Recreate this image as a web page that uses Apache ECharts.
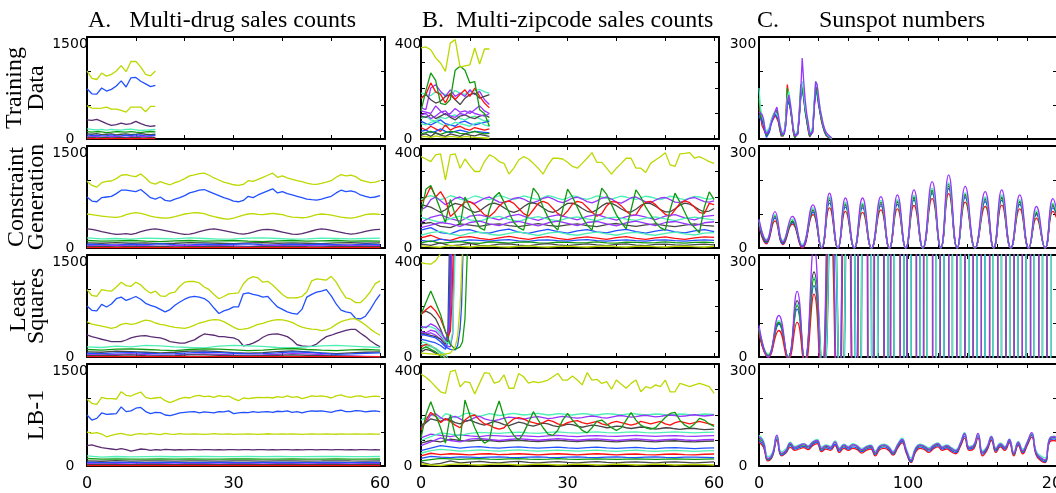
<!DOCTYPE html>
<html><head><meta charset="utf-8">
<script src="https://cdn.jsdelivr.net/npm/echarts@6/dist/echarts.min.js"></script>
<style>html,body{margin:0;padding:0;background:#fff}#c{width:1056px;height:493px}</style>
</head><body><div id="c"></div>
<script>
// ---------- tick labels / categories ----------
const X_LABELS_AB = [0, 30, 60];
const X_LABELS_C = [0, 100, 200];
const Y_MAX = [1500, 400, 300];
const ROW_NAMES = ['Training\nData', 'Constraint\nGeneration', 'Least\nSquares', 'LB-1'];
const TITLES = ['A.   Multi-drug sales counts', 'B.  Multi-zipcode sales counts', 'C.', 'Sunspot numbers'];

// ---------- A. Multi-drug: training (x = 0..14) ----------
const A1_yg1 = [1000, 890, 875, 970, 925, 950, 1000, 1080, 990, 1140, 1140, 1060, 950, 930, 1000];
const A1_blue1 = [740, 665, 660, 750, 705, 730, 780, 855, 765, 900, 905, 850, 810, 770, 790];
const A1_yg2 = [490, 455, 450, 455, 470, 440, 440, 420, 395, 470, 470, 470, 400, 480, 480];
const A1_pd = [280, 275, 290, 260, 225, 200, 210, 235, 215, 225, 260, 225, 200, 185, 195];
const A1_cyan = [150, 140, 135, 140, 130, 140, 135, 130, 140, 145, 135, 125, 130, 135, 140];
const A1_green = [110, 100, 110, 105, 95, 100, 110, 105, 100, 110, 100, 95, 105, 110, 105];
const A1_gray = [75, 70, 80, 65, 70, 75, 60, 70, 75, 65, 70, 80, 70, 65, 70];
const A1_blue2 = [60, 50, 55, 45, 50, 60, 50, 45, 55, 50, 60, 55, 45, 50, 55];
const A1_purple = [35, 30, 40, 25, 30, 35, 40, 30, 25, 35, 30, 40, 35, 30, 25];
const A1_gray2 = [20, 25, 15, 20, 25, 18, 20, 22, 15, 20, 25, 20, 18, 22, 20];
const A1_red = [5, 5, 6, 5, 4, 5, 6, 5, 5, 4, 5, 6, 5, 5, 5];

// ---------- A. Constraint generation (x = 0..60; minor lines every 3) ----------
const A2_yg1 = [980, 920, 895, 960, 980, 985, 1020, 1070, 1080, 1060, 1050, 1090, 1030, 960, 940, 975, 950, 930, 960, 985, 1020, 1060, 1075, 1095, 1100, 1070, 1030, 1000, 970, 950, 930, 920, 935, 990, 980, 1010, 1040, 1070, 1100, 1040, 1060, 1030, 1010, 990, 975, 955, 940, 935, 950, 970, 990, 1040, 1080, 1060, 1070, 1050, 1000, 980, 960, 970, 990];
const A2_blue1 = [750, 690, 680, 740, 750, 760, 800, 850, 850, 840, 830, 860, 800, 740, 720, 750, 700, 690, 720, 740, 770, 810, 830, 850, 860, 830, 800, 770, 740, 720, 690, 680, 700, 760, 740, 780, 810, 840, 870, 810, 830, 800, 780, 760, 740, 720, 710, 705, 720, 740, 760, 810, 850, 830, 840, 820, 780, 760, 740, 750, 770];
const A2_yg2 = [500, 490, 480, 470, 460, 455, 450, 460, 490, 510, 520, 510, 490, 470, 455, 445, 440, 445, 460, 480, 500, 510, 520, 515, 505, 480, 460, 445, 430, 425, 440, 460, 485, 500, 505, 495, 490, 500, 510, 500, 490, 470, 455, 450, 445, 450, 470, 490, 500, 495, 485, 470, 455, 445, 440, 450, 470, 490, 500, 500, 495];
const A2_pd = [280, 275, 260, 240, 225, 210, 200, 205, 210, 200, 215, 240, 260, 275, 280, 270, 255, 240, 225, 210, 200, 205, 220, 240, 260, 275, 280, 270, 255, 240, 225, 210, 205, 215, 235, 255, 270, 275, 265, 250, 235, 220, 205, 200, 210, 230, 250, 270, 280, 275, 260, 245, 230, 215, 205, 210, 225, 245, 260, 270, 275];
const A2_cyan = [150, 135, 140, 130, 145, 140, 135, 150, 140, 130, 135, 145, 150, 140, 130, 135, 145, 140, 135, 140, 145];
const A2_green = [110, 100, 105, 110, 100, 95, 105, 110, 100, 105, 110, 100, 95, 105, 110, 100, 105, 110, 100, 105, 100];
const A2_gray = [75, 70, 80, 70, 75, 65, 70, 80, 75, 70, 65, 75, 80, 70, 75, 70, 65, 75, 80, 70, 75];
const A2_blue2 = [55, 50, 45, 55, 50, 60, 50, 45, 55, 50, 55, 60, 50, 45, 55, 50, 55, 50, 45, 55, 50];
const A2_purple = [35, 30, 40, 30, 35, 25, 35, 40, 30, 35, 30, 25, 35, 40, 30, 35, 30, 35, 40, 30, 35];
const A2_gray2 = [20, 25, 18, 22, 20, 25, 18, 20, 22, 25, 20, 18, 22, 20, 25, 20, 18, 22, 20, 25, 20];
const A2_red = [5, 5, 5, 5, 5, 5, 5, 5, 5, 5, 5, 5, 5, 5, 5, 5, 5, 5, 5, 5, 5];

// ---------- A. Least squares ----------
const A3_yg1 = [990, 905, 890, 990, 975, 968, 1030, 1100, 1050, 1040, 1100, 1060, 990, 940, 968, 900, 890, 940, 955, 1040, 1100, 1113, 1110, 1090, 1030, 990, 920, 857, 890, 929, 935, 944, 1074, 1150, 1181, 1162, 1100, 1113, 1060, 990, 920, 871, 870, 871, 890, 960, 1120, 1150, 1140, 1132, 1186, 1100, 980, 870, 850, 800, 800, 870, 960, 1080, 1120];
const A3_blue1 = [750, 687, 678, 774, 736, 780, 857, 881, 832, 860, 890, 850, 790, 760, 736, 700, 663, 697, 760, 808, 850, 881, 890, 880, 860, 808, 720, 639, 678, 700, 736, 736, 929, 944, 920, 905, 881, 890, 810, 736, 700, 663, 640, 629, 700, 881, 920, 953, 970, 992, 900, 780, 690, 663, 648, 566, 560, 600, 700, 820, 920];
const A3_yg2 = [518, 484, 470, 455, 440, 421, 440, 480, 494, 480, 490, 520, 542, 530, 500, 480, 470, 450, 435, 428, 421, 440, 470, 500, 518, 540, 551, 545, 520, 480, 440, 406, 410, 421, 450, 480, 494, 520, 540, 551, 545, 530, 510, 470, 440, 421, 410, 406, 387, 400, 430, 480, 520, 542, 560, 560, 520, 470, 410, 360, 320];
const A3_pd = [324, 300, 280, 261, 245, 227, 225, 227, 250, 280, 300, 310, 314, 300, 290, 280, 260, 227, 215, 203, 203, 230, 252, 300, 339, 330, 320, 300, 300, 290, 280, 250, 165, 180, 203, 240, 290, 324, 335, 339, 320, 300, 250, 180, 165, 155, 160, 190, 250, 300, 320, 348, 370, 390, 406, 406, 350, 300, 240, 190, 150];
const A3_cyan = [150, 140, 160, 150, 170, 165, 150, 140, 135, 160, 170, 165, 155, 140, 135, 150, 165, 170, 160, 150, 140];
const A3_green = [110, 100, 115, 120, 110, 100, 95, 110, 120, 115, 105, 95, 100, 115, 125, 110, 100, 95, 105, 110, 100];
const A3_gray = [75, 70, 85, 80, 70, 60, 70, 85, 90, 80, 65, 55, 65, 80, 90, 75, 60, 50, 60, 70, 75];
const A3_blue2 = [55, 50, 60, 65, 55, 45, 50, 60, 70, 65, 55, 45, 50, 60, 75, 70, 55, 40, 45, 55, 60];
const A3_purple = [35, 30, 40, 45, 35, 25, 30, 40, 45, 40, 30, 25, 30, 40, 50, 45, 35, 20, 15, 10, 5];
const A3_gray2 = [20, 25, 25, 30, 20, 15, 20, 30, 30, 25, 20, 15, 20, 25, 30, 25, 20, 15, 10, 5, 0];
const A3_red = [5, 5, 5, 5, 5, 5, 5, 5, 5, 5, 5, 5, 5, 5, 5, 5, 5, 5, 5, 5, 5];

// ---------- A. LB-1 ----------
const A4_yg1 = [980, 921, 906, 1010, 990, 990, 985, 1093, 1040, 1029, 1060, 1088, 1010, 990, 1000, 1010, 960, 931, 960, 990, 1010, 1000, 1029, 1040, 1020, 1029, 1010, 1035, 1020, 1029, 990, 960, 1000, 990, 1000, 1010, 1005, 1010, 1000, 1020, 1010, 1030, 1010, 1020, 990, 1010, 1030, 1025, 1030, 1020, 1000, 1030, 1045, 1020, 1010, 1029, 1030, 1010, 1020, 1029, 1020];
const A4_blue1 = [750, 676, 700, 780, 760, 765, 770, 868, 800, 810, 850, 862, 800, 770, 790, 785, 750, 740, 760, 780, 790, 795, 800, 780, 795, 790, 780, 800, 795, 810, 770, 780, 790, 785, 800, 790, 795, 800, 790, 805, 800, 810, 790, 800, 780, 800, 810, 805, 810, 800, 790, 810, 820, 800, 800, 815, 810, 795, 805, 810, 800];
const A4_yg2 = [500, 480, 490, 470, 430, 450, 470, 480, 460, 450, 470, 475, 465, 480, 470, 460, 480, 470, 465, 475, 470, 468, 472, 470, 465, 470, 475, 468, 470, 472, 465, 470, 468, 472, 470, 466, 470, 474, 468, 470, 472, 469, 471, 470, 466, 470, 473, 470, 468, 471, 470, 467, 472, 470, 468, 471, 470, 469, 472, 470, 468];
const A4_pd = [300, 310, 290, 270, 260, 250, 240, 255, 240, 220, 235, 250, 245, 230, 240, 235, 245, 240, 235, 240, 238, 242, 240, 236, 240, 242, 238, 240, 236, 242, 240, 238, 242, 240, 236, 240, 242, 238, 240, 236, 240, 242, 238, 240, 236, 242, 240, 238, 242, 240, 236, 240, 242, 238, 240, 236, 240, 242, 238, 240, 238];
const A4_cyan = [150, 130, 140, 135, 138, 140, 136, 138, 140, 137, 139, 141, 138, 140, 139, 137, 140, 141, 138, 139, 140];
const A4_green = [110, 100, 105, 100, 102, 104, 101, 103, 102, 100, 103, 104, 101, 102, 103, 101, 102, 104, 102, 101, 103];
const A4_gray = [75, 70, 80, 72, 74, 76, 73, 75, 74, 72, 75, 76, 73, 74, 75, 73, 74, 76, 74, 73, 75];
const A4_blue2 = [55, 50, 52, 54, 51, 53, 52, 50, 53, 54, 52, 51, 53, 52, 54, 51, 52, 53, 51, 52, 53];
const A4_purple = [35, 30, 34, 32, 35, 33, 31, 34, 33, 32, 35, 33, 31, 34, 33, 32, 34, 33, 32, 34, 33];
const A4_gray2 = [20, 25, 22, 21, 23, 22, 20, 22, 23, 21, 22, 23, 21, 22, 22, 21, 23, 22, 21, 22, 22];
const A4_red = [5, 5, 5, 5, 5, 5, 5, 5, 5, 5, 5, 5, 5, 5, 5, 5, 5, 5, 5, 5, 5];

// ---------- B. Multi-zipcode: training (x = 0..14) ----------
const B1_yg = [357, 361, 350, 318, 298, 265, 376, 390, 282, 287, 291, 357, 294, 353, 353];
const B1_green = [110, 190, 259, 230, 140, 135, 155, 270, 285, 270, 220, 225, 115, 100, 50];
const B1_red = [160, 175, 220, 185, 175, 141, 180, 155, 175, 193, 167, 200, 167, 141, 122];
const B1_purple = [122, 115, 200, 213, 187, 167, 193, 167, 180, 167, 193, 174, 187, 154, 135];
const B1_cyan = [180, 175, 170, 185, 180, 175, 170, 190, 180, 175, 185, 190, 195, 185, 180];
const B1_gray = [160, 174, 154, 141, 148, 167, 174, 154, 135, 160, 174, 180, 160, 167, 174];
const B1_purple2 = [110, 105, 100, 130, 110, 95, 100, 120, 105, 110, 100, 115, 130, 110, 100];
const B1_cyan2 = [80, 90, 75, 70, 85, 80, 90, 95, 80, 75, 85, 90, 80, 70, 75];
const B1_gray2 = [90, 85, 95, 80, 90, 100, 85, 75, 90, 95, 85, 80, 90, 95, 85];
const B1_purple3 = [95, 100, 80, 90, 105, 110, 90, 85, 100, 95, 110, 100, 95, 90, 100];
const B1_blue = [70, 60, 55, 65, 75, 60, 55, 50, 65, 70, 60, 55, 60, 65, 70];
const B1_cyan3 = [60, 55, 65, 70, 60, 50, 55, 65, 60, 55, 50, 60, 65, 55, 50];
const B1_red2 = [45, 35, 50, 40, 30, 55, 35, 45, 50, 40, 35, 45, 40, 35, 40];
const B1_blue2 = [30, 35, 25, 30, 40, 30, 25, 30, 35, 30, 25, 30, 28, 26, 24];
const B1_green2 = [20, 25, 30, 22, 18, 25, 30, 28, 22, 20, 25, 30, 24, 20, 22];
const B1_gray3 = [15, 20, 10, 25, 15, 10, 20, 15, 10, 20, 15, 12, 18, 14, 10];
const B1_yg2 = [8, 10, 5, 12, 8, 6, 10, 8, 5, 10, 8, 6, 5, 4, 3];

// ---------- B. Constraint generation (main x = 0..60, minor every 2) ----------
const B2_yg = [358, 349, 339, 365, 369, 267, 365, 369, 313, 349, 323, 300, 300, 339, 365, 356, 339, 332, 290, 313, 345, 358, 349, 332, 313, 290, 326, 352, 352, 349, 336, 320, 313, 332, 352, 374, 336, 336, 313, 290, 313, 332, 352, 352, 313, 313, 296, 332, 345, 358, 374, 326, 320, 369, 371, 374, 352, 358, 349, 339, 332];
const B2_green = [130, 230, 245, 200, 150, 100, 190, 130, 90, 200, 160, 120, 80, 70, 150, 200, 218, 180, 140, 100, 80, 70, 150, 235, 210, 160, 120, 90, 70, 150, 231, 200, 160, 120, 90, 70, 150, 235, 210, 170, 130, 100, 75, 150, 228, 200, 160, 130, 100, 80, 70, 150, 215, 180, 140, 100, 80, 60, 160, 220, 190];
const B2_red = [180, 200, 241, 200, 221, 190, 124, 140, 163, 180, 182, 170, 150, 130, 124, 140, 165, 180, 185, 175, 155, 135, 125, 150, 175, 183, 175, 155, 135, 125, 145, 172, 183, 178, 160, 140, 125, 135, 165, 182, 180, 165, 145, 128, 130, 160, 180, 183, 170, 150, 132, 125, 150, 175, 185, 178, 160, 140, 135, 175, 170];
const B2_purple = [150, 160, 190, 200, 185, 170, 180, 195, 200, 190, 180, 175, 185, 195, 200, 190, 180, 178, 185, 195, 198, 192, 182, 178, 185, 195, 200, 193, 183, 178, 186, 196, 199, 192, 182, 177, 185, 195, 200, 192, 180, 176, 186, 197, 200, 190, 181, 177, 188, 196, 198, 190, 180, 178, 186, 195, 198, 190, 182, 180, 185];
const B2_cyan = [190, 200, 205, 198, 190, 195, 205, 200, 192, 188, 196, 204, 200, 193, 190, 197, 205, 201, 194, 190, 197, 204, 200, 194, 191, 198, 205, 201, 195, 190, 196, 204, 201, 195, 191, 197, 204, 200, 195, 192, 198, 203, 200, 194, 191, 197, 203, 200, 195, 190, 196, 203, 200, 194, 190, 196, 202, 200, 195, 192, 196];
const B2_gray = [170, 165, 160, 150, 140, 150, 165, 175, 170, 160, 148, 140, 145, 160, 172, 176, 170, 158, 146, 140, 147, 162, 174, 177, 170, 157, 145, 140, 148, 163, 175, 176, 168, 155, 144, 140, 150, 165, 176, 175, 166, 153, 143, 141, 152, 167, 176, 174, 164, 151, 142, 142, 154, 168, 176, 172, 162, 150, 142, 145, 155];
const B2_purple2 = [100, 120, 130, 115, 105, 125, 130, 120, 110, 125, 132, 118, 108, 122, 130, 120, 110, 124, 131, 119, 109, 123, 130, 121, 111, 125, 131, 118, 110, 124, 128];
const B2_cyan2 = [120, 110, 100, 115, 125, 110, 105, 118, 124, 112, 104, 116, 123, 113, 106, 117, 122, 114, 107, 118, 121, 113, 108, 117, 122, 114, 107, 116, 121, 115, 110];
const B2_gray2 = [95, 100, 85, 80, 95, 90, 85, 92, 95, 88, 84, 90, 96, 89, 85, 91, 95, 88, 84, 92, 96, 90, 85, 91, 95, 88, 84, 90, 95, 89, 86];
const B2_purple3 = [80, 90, 100, 95, 85, 100, 105, 95, 88, 100, 104, 96, 87, 99, 105, 97, 88, 100, 104, 95, 87, 99, 105, 97, 88, 100, 104, 96, 88, 99, 103];
const B2_blue = [70, 80, 60, 55, 70, 72, 60, 58, 68, 74, 62, 57, 66, 73, 64, 58, 67, 72, 63, 59, 68, 73, 64, 58, 66, 72, 63, 59, 67, 72, 64];
const B2_cyan3 = [50, 60, 65, 55, 48, 58, 62, 54, 50, 57, 63, 55, 49, 58, 62, 54, 50, 57, 62, 55, 50, 58, 61, 54, 50, 57, 62, 55, 51, 58, 60];
const B2_red2 = [40, 50, 35, 30, 42, 45, 38, 33, 40, 46, 39, 34, 41, 45, 38, 33, 40, 44, 39, 34, 41, 45, 38, 34, 40, 44, 38, 34, 40, 44, 42];
const B2_blue2 = [30, 25, 35, 28, 26, 32, 30, 27, 31, 33, 28, 26, 31, 32, 29, 27, 31, 33, 29, 27, 30, 32, 29, 27, 31, 32, 29, 27, 30, 32, 30];
const B2_green2 = [20, 28, 18, 22, 25, 20, 18, 24, 22, 19, 23, 24, 20, 19, 23, 22, 20, 21, 24, 20, 19, 23, 22, 20, 21, 24, 21, 19, 22, 23, 21];
const B2_gray3 = [15, 10, 20, 8, 12, 18, 10, 9, 15, 16, 11, 8, 14, 17, 12, 9, 13, 16, 12, 9, 14, 16, 11, 9, 14, 15, 12, 10, 13, 15, 12];
const B2_yg2 = [8, 5, 3, 10, 6, 4, 7, 8, 5, 4, 6, 8, 5, 4, 6, 7, 5, 4, 6, 8, 5, 4, 6, 7, 5, 4, 6, 7, 5, 4, 6];

// ---------- B. Least squares ([x, value] pairs; the fits blow up) ----------
const B3_yg = [[0, 370], [1, 366], [2, 364], [3, 378], [4, 405], [5, 500]];
const B3_yg2 = [[0, 15], [2, 12], [4, 8], [6, 15], [7, 40], [7.5, 80], [8, 200], [8.5, 420], [9, 900]];
const B3_green = [[0, 167], [1, 214], [2, 259], [3, 214], [4, 167], [5, 100], [6, 50], [7, 30], [8, 40], [8.5, 60], [9, 150], [9.5, 420], [10, 900]];
const B3_red = [[0, 167], [1, 185], [2, 200], [3, 180], [4, 150], [5, 100], [5.5, 80], [6, 100], [6.3, 200], [6.6, 420], [7, 900]];
const B3_purple = [[0, 120], [1, 115], [2, 130], [3, 120], [4, 100], [5, 70], [5.5, 80], [6, 150], [6.3, 420], [6.6, 900]];
const B3_cyan = [[0, 110], [1, 120], [2, 118], [3, 110], [4, 90], [5, 60], [6, 50], [6.5, 100], [7, 420], [7.5, 900]];
const B3_gray = [[0, 170], [1, 180], [2, 170], [3, 150], [4, 110], [5, 60], [5.5, 60], [6, 130], [6.2, 420], [6.5, 900]];
const B3_blue = [[0, 90], [1, 85], [2, 80], [3, 75], [4, 60], [5, 40], [6, 30], [7, 28], [7.5, 45], [8, 110], [8.3, 200], [8.6, 420], [9, 900]];
const B3_blue2 = [[0, 70], [1, 65], [2, 60], [3, 55], [4, 45], [5, 30], [5.5, 60], [5.8, 200], [6, 420], [6.3, 900]];
const B3_purple2 = [[0, 100], [1, 95], [2, 105], [3, 100], [4, 80], [5, 60], [5.7, 120], [6, 420], [6.3, 900]];
const B3_gray2 = [[0, 95], [1, 90], [2, 85], [3, 80], [4, 70], [5, 50], [5.5, 90], [5.8, 420], [6, 900]];
const B3_purple3 = [[0, 85], [1, 90], [2, 95], [3, 85], [4, 70], [5, 45], [6, 40], [6.5, 90], [6.8, 420], [7.1, 900]];
const B3_cyan2 = [[0, 60], [1, 55], [2, 45], [3, 30], [4, 15], [5, -5], [6, -50]];
const B3_red2 = [[0, 40], [1, 50], [2, 45], [3, 30], [4, 15], [5, 0], [6, -60]];
const B3_green2 = [[0, 30], [1, 40], [2, 30], [3, 20], [4, 5], [4.5, -20]];
const B3_gray3 = [[0, 20], [1, 30], [2, 25], [3, 15], [4, 5], [5, -10]];
const B3_cyan3 = [[0, 50], [1, 45], [2, 40], [3, 35], [4, 20], [5, 10], [6, -20]];

// ---------- B. LB-1 ----------
const B4_yg = [361, 348, 331, 311, 291, 285, 370, 376, 311, 331, 327, 282, 325, 366, 363, 325, 331, 357, 305, 305, 363, 350, 325, 331, 327, 331, 337, 350, 363, 337, 337, 353, 337, 318, 366, 337, 340, 324, 331, 301, 337, 321, 305, 324, 337, 291, 311, 305, 318, 311, 337, 291, 291, 324, 318, 311, 318, 324, 318, 311, 285];
const B4_green = [110, 200, 252, 200, 150, 90, 200, 120, 100, 259, 200, 150, 110, 90, 100, 200, 255, 190, 150, 120, 100, 130, 170, 213, 180, 150, 125, 120, 140, 180, 206, 180, 160, 140, 130, 150, 175, 180, 165, 150, 140, 150, 180, 209, 180, 160, 150, 145, 150, 170, 190, 206, 210, 180, 160, 150, 165, 187, 180, 165, 155];
const B4_red = [140, 180, 210, 195, 170, 185, 175, 160, 150, 180, 195, 200, 180, 165, 160, 150, 145, 150, 170, 185, 190, 185, 175, 170, 165, 170, 180, 175, 165, 160, 170, 175, 178, 170, 165, 170, 175, 165, 160, 170, 175, 170, 165, 160, 165, 175, 170, 165, 170, 175, 165, 160, 170, 175, 170, 165, 170, 175, 170, 165, 160];
const B4_purple = [150, 170, 200, 205, 190, 180, 190, 195, 185, 175, 180, 190, 195, 185, 180, 178, 182, 188, 192, 190, 186, 184, 188, 192, 194, 190, 186, 188, 192, 195, 193, 190, 188, 190, 194, 196, 194, 190, 188, 192, 196, 198, 195, 192, 194, 197, 199, 196, 193, 195, 198, 200, 198, 195, 196, 199, 201, 198, 196, 198, 200];
const B4_cyan = [180, 190, 200, 195, 185, 205, 200, 190, 195, 205, 208, 200, 195, 200, 205, 202, 198, 200, 204, 206, 203, 200, 202, 205, 206, 203, 200, 202, 205, 204, 201, 200, 203, 205, 204, 201, 200, 203, 205, 204, 202, 200, 203, 205, 204, 202, 200, 202, 204, 203, 201, 200, 202, 204, 203, 201, 200, 202, 204, 203, 202];
const B4_gray = [160, 170, 185, 180, 175, 185, 180, 170, 165, 175, 180, 172, 165, 160, 168, 175, 170, 162, 158, 165, 172, 168, 160, 156, 162, 168, 165, 158, 154, 158, 164, 162, 156, 152, 156, 160, 158, 154, 150, 152, 156, 155, 150, 147, 150, 153, 152, 148, 145, 147, 150, 149, 146, 144, 146, 148, 147, 145, 143, 144, 145];
const B4_purple2 = [110, 125, 120, 115, 122, 118, 115, 120, 118, 116, 119, 117, 115, 118, 120, 117, 115, 118, 119, 117, 116, 118, 120, 118, 116, 118, 119, 117, 116, 118, 119];
const B4_cyan2 = [100, 115, 130, 125, 120, 128, 132, 130, 128, 131, 133, 130, 128, 132, 134, 131, 129, 132, 134, 131, 130, 133, 134, 131, 130, 132, 134, 132, 130, 132, 133];
const B4_gray2 = [90, 100, 95, 105, 100, 98, 102, 100, 96, 99, 101, 98, 96, 99, 101, 98, 96, 99, 100, 97, 95, 98, 100, 97, 95, 98, 99, 96, 95, 97, 98];
const B4_purple3 = [80, 95, 110, 100, 95, 105, 108, 104, 100, 104, 107, 104, 101, 104, 107, 104, 101, 104, 106, 103, 100, 103, 106, 103, 100, 103, 105, 102, 100, 103, 104];
const B4_blue = [60, 70, 80, 75, 70, 74, 76, 72, 70, 73, 75, 72, 70, 72, 74, 71, 69, 72, 74, 71, 69, 71, 73, 70, 68, 71, 72, 70, 68, 70, 71];
const B4_cyan3 = [50, 60, 65, 62, 58, 60, 63, 60, 58, 61, 63, 60, 58, 60, 62, 60, 58, 60, 62, 59, 57, 60, 62, 59, 57, 59, 61, 59, 57, 59, 60];
const B4_red2 = [40, 50, 45, 48, 46, 44, 47, 48, 45, 46, 48, 46, 44, 46, 48, 46, 44, 46, 48, 46, 44, 46, 47, 45, 44, 46, 47, 45, 44, 46, 47];
const B4_blue2 = [30, 38, 35, 33, 36, 35, 33, 35, 36, 34, 33, 35, 36, 34, 33, 35, 36, 34, 33, 35, 36, 34, 33, 35, 36, 34, 33, 35, 35, 34, 33];
const B4_green2 = [20, 25, 30, 28, 26, 28, 29, 27, 26, 28, 29, 27, 26, 27, 29, 27, 26, 27, 28, 27, 26, 27, 28, 27, 26, 27, 28, 27, 26, 27, 28];
const B4_gray3 = [15, 5, 10, 20, 12, 15, 18, 14, 12, 16, 18, 14, 12, 15, 17, 14, 12, 15, 17, 14, 12, 15, 16, 14, 12, 15, 16, 14, 12, 14, 16];
const B4_yg2 = [8, 4, 2, 6, 8, 5, 4, 6, 8, 6, 4, 5, 7, 6, 4, 5, 7, 6, 4, 5, 7, 6, 4, 5, 7, 6, 4, 5, 6, 5, 4];

// ---------- C. Sunspots: training (x = 0..49) ----------
const C1_purple = [80, 77, 72, 60, 25, 15, 18, 27, 45, 58, 70, 84, 94, 70, 40, 22, 12, 20, 42, 109, 129, 104, 72, 30, 10, 10, 15, 70, 140, 238, 170, 115, 75, 48, 15, 10, 20, 89, 169, 160, 125, 87, 67, 45, 30, 20, 15, 10, 5, 2];
const C1_green = [120, 70, 60, 50, 30, 10, 15, 30, 50, 65, 75, 80, 85, 60, 35, 15, 8, 20, 60, 150, 120, 95, 65, 25, 5, 5, 20, 80, 160, 165, 130, 90, 60, 35, 10, 5, 30, 100, 150, 135, 110, 80, 55, 40, 25, 15, 10, 5, 2, 0];
const C1_cyan = [150, 90, 70, 55, 35, 20, 25, 35, 55, 62, 72, 78, 80, 65, 45, 25, 15, 25, 55, 120, 140, 110, 70, 35, 12, 12, 25, 75, 130, 170, 140, 95, 70, 45, 15, 10, 35, 110, 170, 160, 120, 90, 65, 45, 30, 20, 12, 8, 4, 2];
const C1_blue = [70, 60, 50, 40, 20, 5, 8, 20, 40, 55, 65, 75, 70, 55, 30, 10, 5, 15, 40, 100, 110, 90, 60, 25, 5, 8, 15, 60, 120, 150, 120, 80, 55, 30, 8, 5, 20, 90, 140, 130, 100, 75, 55, 35, 22, 12, 8, 4, 2, 0];
const C1_red = [90, 70, 40, 30, 20, 10, 15, 25, 45, 50, 62, 70, 75, 50, 25, 8, 5, 20, 60, 160, 125, 90, 60, 20, 5, 5, 15, 65, 130, 160, 120, 85, 55, 25, 6, 5, 20, 85, 150, 140, 105, 80, 50, 35, 20, 10, 6, 3, 1, 0];
const C1_gray = [60, 80, 55, 45, 25, 12, 15, 28, 48, 60, 68, 72, 78, 58, 35, 15, 8, 22, 50, 115, 115, 95, 62, 28, 8, 8, 18, 68, 125, 155, 125, 88, 58, 32, 10, 6, 25, 95, 155, 145, 110, 82, 58, 38, 24, 14, 8, 5, 2, 0];

// ---------- C. Constraint generation (peaks / troughs) ----------
const C2_x = [0, 5, 10.7, 16, 22.4, 29, 36.2, 42, 47.3, 53, 58, 64, 69.5, 75.5, 81.8, 87.5, 92.9, 98.5, 104, 110, 116.2, 122, 127.3, 133, 138.4, 145, 151.8, 157.5, 162.9, 169, 175, 181, 186.2, 192, 197.3, 200];
const C2_purple = [85, 22, 107, 18, 93, 5, 127, 0, 161, 0, 147, 0, 147, 0, 151, 0, 156, 0, 171, 0, 195, 0, 215, 0, 181, 0, 166, 0, 171, 0, 156, 0, 122, 0, 145, 110];
const C2_green = [78, 20, 95, 18, 80, 8, 112, 2, 145, 0, 130, 0, 128, 0, 135, 0, 138, 0, 150, 0, 170, 0, 188, 0, 158, 0, 145, 0, 150, 0, 138, 0, 105, 0, 128, 100];
const C2_cyan = [82, 25, 98, 22, 85, 10, 118, 4, 150, 2, 135, 2, 132, 0, 140, 0, 142, 0, 155, 0, 176, 0, 192, 0, 162, 0, 150, 0, 156, 0, 142, 0, 110, 0, 132, 105];
const C2_blue = [70, 15, 88, 12, 75, 3, 105, 0, 132, 0, 120, 0, 118, 0, 124, 0, 128, 0, 140, 0, 160, 0, 175, 0, 148, 0, 136, 0, 140, 0, 128, 0, 98, 0, 118, 95];
const C2_red = [65, 12, 80, 10, 70, 0, 98, 0, 118, 0, 108, 0, 105, 0, 112, 0, 115, 0, 125, 0, 145, 0, 160, 0, 135, 0, 122, 0, 126, 0, 115, 0, 88, 0, 108, 85];
const C2_gray = [75, 18, 92, 15, 78, 5, 110, 0, 140, 0, 126, 0, 124, 0, 130, 0, 134, 0, 146, 0, 166, 0, 182, 0, 154, 0, 142, 0, 146, 0, 134, 0, 102, 0, 124, 98];

// ---------- C. Least squares (growing oscillation) ----------
const C3_x = [0, 6.2, 13.3, 19.6, 25.6, 30.7, 36.9, 42, 47.5, 53, 58.5, 64, 69.5, 75, 80.5, 86, 91.5, 97, 102.5, 108, 113.5, 119, 124.5, 130, 135.5, 141, 146.5, 152, 157.5, 163, 168.5, 174, 179.5, 185, 190.5, 196, 201.5];
const C3_xb = [0, 6.2, 13.3, 19.6, 25.6, 30.7, 36.9, 43, 49, 55, 61, 66.5, 72, 77.5, 83, 88.5, 94, 99.5, 105, 110.5, 116, 121.5, 127, 132.5, 138, 143.5, 149, 154.5, 160, 165.5, 171, 176.5, 182, 187.5, 193, 198.5, 204];
const C3_purple = [93, 0, 122, -5, 193, -20, 330, -90, 700, -260, 1500, -700, 3000, -1500, 6000, -3000, 10000, -6000, 15000, -10000, 20000, -15000, 20000, -20000, 20000, -20000, 20000, -20000, 20000, -20000, 20000, -20000, 20000, -20000, 20000, -20000, 20000];
const C3_green = [80, 5, 102, 0, 151, -10, 230, -60, 560, -220, 1300, -600, 2800, -1400, 5600, -2800, 9500, -5600, 14000, -9500, 19000, -14000, 20000, -19000, 20000, -20000, 20000, -20000, 20000, -20000, 20000, -20000, 20000, -20000, 20000, -20000, 20000];
const C3_cyan = [85, 8, 107, 2, 156, -8, 235, -70, 600, -240, 1400, -650, 2900, -1450, 5800, -2900, 9800, -5800, 14500, -9800, 19500, -14500, 20000, -19500, 20000, -20000, 20000, -20000, 20000, -20000, 20000, -20000, 20000, -20000, 20000, -20000, 20000];
const C3_blue = [75, 0, 97, -5, 141, -15, 210, -80, 520, -260, 1200, -700, 2600, -1500, 5200, -3000, 9000, -6000, 13500, -10000, 18500, -15000, 20000, -20000, 20000, -20000, 20000, -20000, 20000, -20000, 20000, -20000, 20000, -20000, 20000, -20000, 20000];
const C3_red = [70, 0, 78, -8, 102, -25, 185, -100, 450, -300, 1000, -800, 2400, -1700, 5000, -3400, 8500, -6500, 13000, -10500, 18000, -15500, 20000, -20000, 20000, -20000, 20000, -20000, 20000, -20000, 20000, -20000, 20000, -20000, 20000, -20000, 20000];
const C3_gray = [80, 3, 99, -2, 166, -12, 250, -60, 620, -200, 1350, -550, 2850, -1300, 5700, -2700, 9700, -5500, 14200, -9200, 19200, -14000, 20000, -19000, 20000, -20000, 20000, -20000, 20000, -20000, 20000, -20000, 20000, -20000, 20000, -20000, 20000];

// ---------- C. LB-1 (x = 0, 3, ..., 201) ----------
const C4_purple = [86, 70, 22, 35, 91, 37, 45, 67, 55, 60, 65, 58, 70, 75, 52, 60, 55, 71, 50, 62, 55, 63, 58, 48, 56, 60, 40, 58, 62, 55, 40, 62, 78, 45, 18, 50, 62, 58, 50, 60, 66, 55, 60, 52, 45, 65, 96, 55, 60, 96, 40, 55, 86, 50, 65, 55, 78, 38, 70, 45, 70, 98, 40, 25, 18, 80, 86, 75];
const C4_cyan = [90, 75, 28, 40, 88, 42, 50, 70, 58, 62, 66, 60, 72, 78, 56, 62, 58, 74, 54, 64, 58, 66, 60, 52, 58, 62, 45, 60, 64, 58, 44, 64, 82, 50, 24, 54, 64, 60, 54, 62, 68, 58, 62, 55, 48, 68, 98, 58, 62, 92, 45, 58, 88, 54, 68, 58, 80, 42, 72, 50, 72, 96, 45, 30, 24, 82, 88, 78];
const C4_blue = [75, 60, 18, 30, 80, 32, 40, 60, 50, 54, 58, 52, 64, 70, 46, 54, 50, 64, 44, 56, 50, 56, 52, 42, 50, 54, 34, 52, 56, 50, 35, 56, 72, 40, 12, 44, 56, 52, 44, 54, 60, 50, 54, 46, 40, 60, 88, 50, 54, 88, 35, 50, 80, 44, 60, 50, 72, 34, 64, 40, 64, 90, 36, 20, 12, 74, 80, 70];
const C4_red = [70, 55, 15, 28, 75, 30, 38, 55, 46, 50, 54, 48, 60, 66, 42, 50, 46, 60, 40, 52, 46, 52, 48, 38, 46, 50, 30, 48, 52, 46, 32, 52, 68, 36, 10, 40, 52, 48, 40, 50, 56, 46, 50, 42, 36, 56, 82, 46, 50, 82, 30, 46, 75, 40, 56, 46, 68, 30, 60, 36, 60, 85, 32, 16, 10, 70, 75, 66];
const C4_green = [80, 66, 20, 33, 86, 36, 44, 64, 54, 58, 62, 56, 68, 74, 50, 58, 54, 70, 48, 60, 54, 62, 56, 46, 54, 58, 38, 56, 60, 54, 38, 60, 76, 44, 16, 48, 60, 56, 48, 58, 64, 54, 58, 50, 44, 64, 94, 54, 58, 92, 40, 54, 84, 48, 64, 54, 76, 36, 68, 44, 68, 94, 40, 24, 16, 78, 84, 74];

// ---------- build ----------
const CLR = {yg:'#bcd800', blue:'#2050ff', green:'#119a11', red:'#ff1010', purple:'#9933ff', gray:'#474747', cyan:'#4cf0b4', dpurple:'#5a2c72'};
const seq = (ys, step) => ys.map((v, i) => [i * (step || 1), v]);
const zip = (xs, ys) => ys.map((v, i) => [xs[i], v]);

const aRow = (m, step) => [
  ['yg', seq(m[0])], ['blue', seq(m[1])], ['yg', seq(m[2])], ['dpurple', seq(m[3])],
  ['cyan', seq(m[4], step)], ['green', seq(m[5], step)], ['gray', seq(m[6], step)], ['blue', seq(m[7], step)],
  ['purple', seq(m[8], step)], ['gray', seq(m[9], step)], ['red', seq(m[10], step)]
];
const bRow = (m, step) => [
  ['cyan', seq(m[4])], ['purple', seq(m[3])], ['gray', seq(m[5])], ['red', seq(m[2])],
  ['purple', seq(m[6], step)], ['cyan', seq(m[7], step)], ['gray', seq(m[8], step)], ['purple', seq(m[9], step)],
  ['blue', seq(m[10], step)], ['cyan', seq(m[11], step)], ['red', seq(m[12], step)], ['blue', seq(m[13], step)],
  ['green', seq(m[14], step)], ['gray', seq(m[15], step)], ['yg', seq(m[16], step)],
  ['green', seq(m[1])], ['yg', seq(m[0])]
];

const PANELS = [
  {r:0, c:0, s: aRow([A1_yg1, A1_blue1, A1_yg2, A1_pd, A1_cyan, A1_green, A1_gray, A1_blue2, A1_purple, A1_gray2, A1_red], 1)},
  {r:1, c:0, s: aRow([A2_yg1, A2_blue1, A2_yg2, A2_pd, A2_cyan, A2_green, A2_gray, A2_blue2, A2_purple, A2_gray2, A2_red], 3)},
  {r:2, c:0, s: aRow([A3_yg1, A3_blue1, A3_yg2, A3_pd, A3_cyan, A3_green, A3_gray, A3_blue2, A3_purple, A3_gray2, A3_red], 3)},
  {r:3, c:0, s: aRow([A4_yg1, A4_blue1, A4_yg2, A4_pd, A4_cyan, A4_green, A4_gray, A4_blue2, A4_purple, A4_gray2, A4_red], 3)},
  {r:0, c:1, s: bRow([B1_yg, B1_green, B1_red, B1_purple, B1_cyan, B1_gray, B1_purple2, B1_cyan2, B1_gray2, B1_purple3, B1_blue, B1_cyan3, B1_red2, B1_blue2, B1_green2, B1_gray3, B1_yg2], 1)},
  {r:1, c:1, s: bRow([B2_yg, B2_green, B2_red, B2_purple, B2_cyan, B2_gray, B2_purple2, B2_cyan2, B2_gray2, B2_purple3, B2_blue, B2_cyan3, B2_red2, B2_blue2, B2_green2, B2_gray3, B2_yg2], 2)},
  {r:2, c:1, s: [
    ['cyan', B3_cyan3], ['gray', B3_gray3], ['green', B3_green2], ['red', B3_red2], ['cyan', B3_cyan2],
    ['purple', B3_purple3], ['gray', B3_gray2], ['purple', B3_purple2], ['blue', B3_blue2], ['blue', B3_blue],
    ['gray', B3_gray], ['cyan', B3_cyan], ['purple', B3_purple], ['red', B3_red], ['green', B3_green],
    ['yg', B3_yg2], ['yg', B3_yg]
  ]},
  {r:3, c:1, s: bRow([B4_yg, B4_green, B4_red, B4_purple, B4_cyan, B4_gray, B4_purple2, B4_cyan2, B4_gray2, B4_purple3, B4_blue, B4_cyan3, B4_red2, B4_blue2, B4_green2, B4_gray3, B4_yg2], 2)},
  {r:0, c:2, s: [['gray', seq(C1_gray)], ['red', seq(C1_red)], ['blue', seq(C1_blue)], ['green', seq(C1_green)], ['cyan', seq(C1_cyan)], ['purple', seq(C1_purple)]]},
  {r:1, c:2, smooth:true, s: [['red', zip(C2_x, C2_red)], ['blue', zip(C2_x, C2_blue)], ['gray', zip(C2_x, C2_gray)], ['green', zip(C2_x, C2_green)], ['cyan', zip(C2_x, C2_cyan)], ['purple', zip(C2_x, C2_purple)]]},
  {r:2, c:2, smooth:true, s: [['gray', zip(C3_xb, C3_gray)], ['blue', zip(C3_xb, C3_blue)], ['cyan', zip(C3_xb, C3_cyan)], ['red', zip(C3_x, C3_red)], ['green', zip(C3_x, C3_green)], ['purple', zip(C3_x, C3_purple)]]},
  {r:3, c:2, smooth:true, s: [['red', seq(C4_red, 3)], ['blue', seq(C4_blue, 3)], ['green', seq(C4_green, 3)], ['cyan', seq(C4_cyan, 3)], ['purple', seq(C4_purple, 3)]]}
];

const COL_LEFT = [87, 421, 759], ROW_TOP = [37, 146, 255, 364], PW = 298, PH = 102;
const COLCFG = [
  {xmax:61, xint:10, xl:X_LABELS_AB, yint:500, lm:17},
  {xmax:61, xint:10, xl:X_LABELS_AB, yint:100, lm:13},
  {xmax:200, xint:20, xl:X_LABELS_C, yint:100, lm:16}
];
const NAME_GAP = [32, 35, 35, 32], NAME_LH = [22, 20, 18, 24];
const LINE = {show:true, onZero:false, lineStyle:{color:'#000', width:2}};
const TICK = {show:true, inside:true, length:4, lineStyle:{color:'#000', width:1}};

const grids = [], xAxis = [], yAxis = [], series = [];
PANELS.forEach((p, g) => {
  const cfg = COLCFG[p.c], ymax = Y_MAX[p.c];
  grids.push({left:COL_LEFT[p.c], top:ROW_TOP[p.r], width:PW, height:PH, containLabel:false, outerBoundsMode:'none'});
  xAxis.push({gridIndex:g, type:'value', min:0, max:cfg.xmax, interval:cfg.xint, position:'bottom',
    axisLine:LINE, axisTick:TICK, splitLine:{show:false},
    axisLabel:{show:p.r === 3, showMinLabel:true, showMaxLabel:true, hideOverlap:false, margin:10, color:'#000', fontFamily:'DejaVu Sans', fontSize:16,
      formatter:(v) => cfg.xl.includes(v) ? String(v) : ''}});
  xAxis.push({gridIndex:g, type:'value', min:0, max:cfg.xmax, interval:cfg.xint, position:'top',
    axisLine:LINE, axisTick:TICK, splitLine:{show:false}, axisLabel:{show:false}});
  const yl = {gridIndex:g, type:'value', min:0, max:ymax, interval:cfg.yint, position:'left',
    axisLine:LINE, axisTick:TICK, splitLine:{show:false},
    axisLabel:{showMinLabel:true, showMaxLabel:true, align:'center', margin:cfg.lm, lineHeight:14, color:'#000', fontFamily:'DejaVu Sans', fontSize:14,
      formatter:(v) => v === ymax ? '\n' + v : (v === 0 ? '0' : '')}};
  if (p.c === 0) {
    Object.assign(yl, {name:ROW_NAMES[p.r], nameLocation:'middle', nameRotate:90, nameGap:NAME_GAP[p.r],
      nameTextStyle:{fontFamily:'Liberation Serif', fontSize:24, color:'#000', lineHeight:NAME_LH[p.r]}});
  }
  yAxis.push(yl);
  yAxis.push({gridIndex:g, type:'value', min:0, max:ymax, interval:cfg.yint, position:'right',
    axisLine:LINE, axisTick:TICK, splitLine:{show:false}, axisLabel:{show:false}});
  p.s.forEach(([c, d]) => {
    series.push({type:'line', xAxisIndex:2 * g, yAxisIndex:2 * g, data:d, symbol:'none', showSymbol:false,
      smooth:!!p.smooth, clip:true, silent:true, lineStyle:{color:CLR[c], width:1.3}});
  });
});

const TS = {fontFamily:'Liberation Serif', fontSize:24, fontWeight:'normal', color:'#000'};
const chart = echarts.init(document.getElementById('c'), null, {renderer:'canvas'});
chart.setOption({
  animation:false, backgroundColor:'#fff',
  title:[
    {text:TITLES[0], left:88, top:9, padding:0, textStyle:TS},
    {text:TITLES[1], left:422, top:9, padding:0, textStyle:TS},
    {text:TITLES[2], left:757, top:9, padding:0, textStyle:TS},
    {text:TITLES[3], left:819, top:9, padding:0, textStyle:TS}
  ],
  grid:grids, xAxis:xAxis, yAxis:yAxis, series:series
});
</script></body></html>
